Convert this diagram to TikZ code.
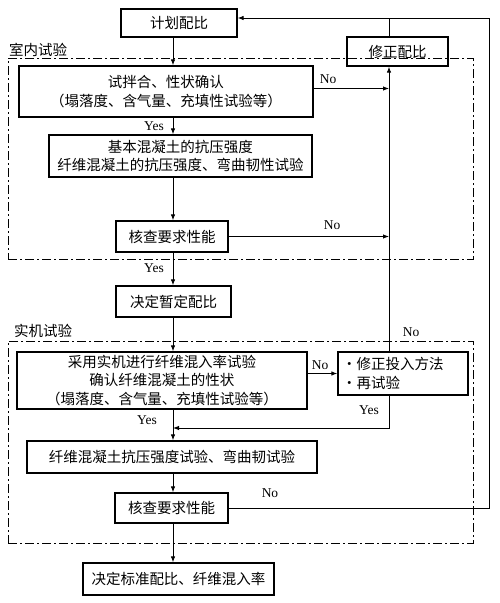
\documentclass[tikz,border=0pt]{standalone}
\usepackage{fontspec}
\setmainfont{Liberation Serif}
\newfontfamily\cjk{Noto Sans CJK SC}
\newcommand\cjktext{\cjk\fontsize{14.5}{18.5}\selectfont}
\usetikzlibrary{arrows.meta}
\begin{document}
\begin{tikzpicture}[x=1pt,y=-1pt,
  box/.style={draw, line width=1.3pt, inner sep=0pt, align=center, font=\cjktext},
  conn/.style={line width=0.9pt},
  arr/.style={conn, -{Latex[length=6pt,width=4.5pt]}},
  grp/.style={draw, line width=1pt, dash pattern=on 9pt off 3pt on 2pt off 3pt, inner sep=0pt},
  lbl/.style={font=\fontsize{13.5}{13.5}\selectfont, inner sep=0pt},
  glbl/.style={font=\cjktext, inner sep=0pt, anchor=west}]
\useasboundingbox (0,0) rectangle (500,603);

% groups
\node[grp, minimum width=465pt, minimum height=201pt] (indoor) at (240.5,158.5) {};
\node[grp, minimum width=465pt, minimum height=202pt] (machine) at (240.5,442) {};
\node[glbl] (indoorlbl) at (9,50) {室内试验};
\node[glbl] (machinelbl) at (14,331) {实机试验};

% boxes
\node[box, minimum width=116pt, minimum height=28pt] (plan) at (179,23) {计划配比};
\node[box, minimum width=101pt, minimum height=29pt] (revise) at (397.5,51.5) {修正配比};
\node[box, minimum width=294pt, minimum height=51pt] (mix) at (166,91.5) {试拌合、性状确认\\（塌落度、含气量、充填性试验等）};
\node[box, minimum width=263pt, minimum height=42pt] (basic) at (180.5,156) {基本混凝土的抗压强度\\纤维混凝土的抗压强度、弯曲韧性试验};
\node[box, minimum width=112pt, minimum height=31pt] (check1) at (172,236.5) {核查要求性能};
\node[box, minimum width=115pt, minimum height=31pt] (decide) at (173.5,301.5) {决定暂定配比};
\node[box, minimum width=290pt, minimum height=57pt] (real) at (162,380.5) {采用实机进行纤维混入率试验\\确认纤维混凝土的性状\\（塌落度、含气量、充填性试验等）};
\node[box, align=left, text width=122pt, inner xsep=4pt, minimum height=43pt] (fix) at (403,373.5) {・修正投入方法\\・再试验};
\node[box, minimum width=290pt, minimum height=32pt] (fiber) at (172,457) {纤维混凝土抗压强度试验、弯曲韧试验};
\node[box, minimum width=113pt, minimum height=30pt] (check2) at (171.5,508) {核查要求性能};
\node[box, minimum width=191pt, minimum height=32pt] (final) at (178.5,579) {决定标准配比、纤维混入率};

% helper coordinates
\coordinate (colx) at (173,0);
\coordinate (colR) at (389,0);
\coordinate (fbR) at (489,18);
\coordinate (yesjoin) at (389,428);

% main flow
\draw[arr] (plan.south -| colx) -- (mix.north -| colx);
\draw[arr] (mix.south -| colx) -- (basic.north -| colx);
\draw[arr] (basic.south -| colx) -- (check1.north -| colx);
\draw[arr] (check1.south -| colx) -- (decide.north -| colx);
\draw[arr] (decide.south -| colx) -- (real.north -| colx);
\draw[arr] (real.south -| colx) -- (fiber.north -| colx);
\draw[arr] (fiber.south -| colx) -- (check2.north -| colx);
\draw[arr] (check2.south -| colx) -- (final.north -| colx);

% No branches
\draw[arr] ([yshift=3pt]mix.east) -- ([yshift=3pt]mix.east -| colR);
\draw[arr] (check1.east) -- (check1.east -| colR);
\draw[arr] (fix.north -| colR) -- (revise.south -| colR);
\draw[conn] (revise.north -| colR) -- (fbR -| colR);
\draw[arr] (fix.west -| real.east) -- (fix.west);
\draw[arr] (fix.south -| colR) -- (yesjoin) -- (yesjoin -| colx);
\draw[arr] (check2.east) -- (check2.east -| fbR) -- (fbR) -- (fbR -| plan.east);

% labels
\node[lbl] (y1) at (154,126) {Yes};
\node[lbl] (n1) at (328,79) {No};
\node[lbl] (n2) at (332,225) {No};
\node[lbl] (y2) at (154,268) {Yes};
\node[lbl] (n3) at (411,332) {No};
\node[lbl] (n4) at (320,365) {No};
\node[lbl] (y3) at (369,410) {Yes};
\node[lbl] (y4) at (147,420) {Yes};
\node[lbl] (n5) at (270,493) {No};
\end{tikzpicture}
\end{document}
